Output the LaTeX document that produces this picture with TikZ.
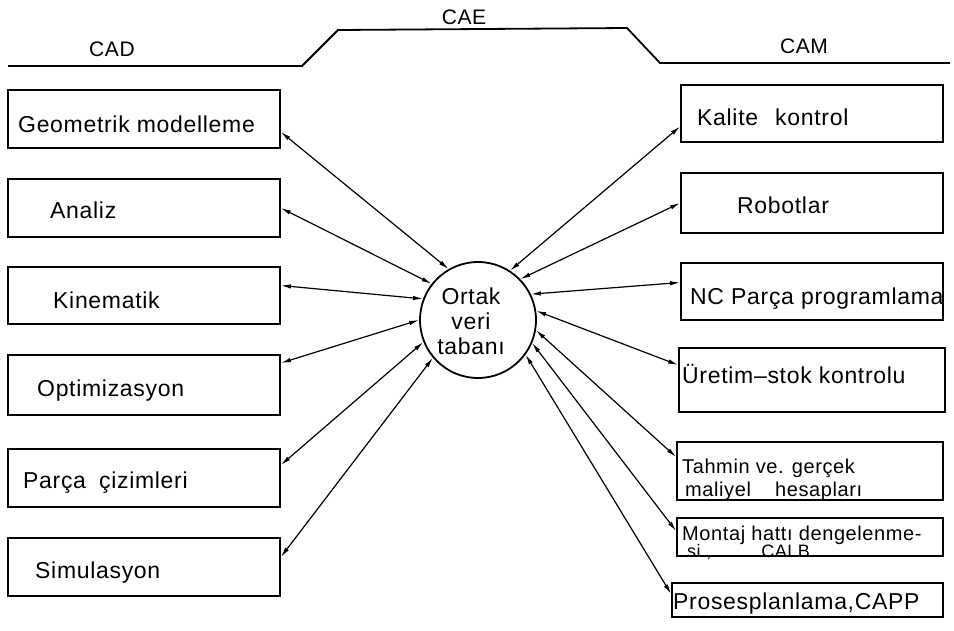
\documentclass[tikz,border=0pt]{standalone}
\usepackage{fontspec}
\setmainfont{Liberation Sans}[LetterSpace=3]
\usetikzlibrary{arrows.meta}
\begin{document}
\begin{tikzpicture}[x=1pt,y=-1pt,
  box/.style={draw, line width=1.8pt, inner sep=0pt},
  lbl/.style={inner sep=0pt, anchor=base west, font=\fontsize{23}{26}\selectfont},
  small/.style={inner sep=0pt, anchor=base west, font=\fontsize{20}{22}\selectfont},
  head/.style={inner sep=0pt, font=\fontsize{21}{24}\selectfont},
  hub/.style={draw, circle, line width=1.8pt, minimum size=116pt, inner sep=0pt},
  link/.style={line width=1.2pt, {Latex[length=10pt,width=4.5pt]}-{Latex[length=10pt,width=4.5pt]}},
  rail/.style={line width=1.8pt}]
\useasboundingbox (0,0) rectangle (954,630);
\fill[white] (0,0) rectangle (954,630);

% header rail
\draw[rail] (8,66) -- (302,66) -- (338,30) -- (627,28) -- (660,63) -- (950,63);
\node[head] (cad) at (112,49) {CAD};
\node[head] (cae) at (464,17) {CAE};
\node[head] (cam) at (804,46) {CAM};

% hub
\node[hub] (C) at (478,320) {};
\node[inner sep=0pt, align=center, font=\fontsize{23}{25}\selectfont] (Ct) at (471,321) {Ortak\\veri\\tabanı};

% left boxes
\node[box, minimum width=272pt, minimum height=58pt] (G) at (144,119) {};
\node[lbl] (Gt) at (18,132) {Geometrik modelleme};
\node[box, minimum width=272pt, minimum height=58pt] (A) at (144,208) {};
\node[lbl] (At) at (50,218) {Analiz};
\node[box, minimum width=272pt, minimum height=57pt] (K) at (144,295.5) {};
\node[lbl] (Kt) at (53,308) {Kinematik};
\node[box, minimum width=272pt, minimum height=60pt] (O) at (144,385) {};
\node[lbl] (Ot) at (37,396) {Optimizasyon};
\node[box, minimum width=272pt, minimum height=58pt] (P) at (144,478) {};
\node[lbl] (Pt) at (23,488) {Parça\hspace{6pt} çizimleri};
\node[box, minimum width=272pt, minimum height=58pt] (S) at (144,567) {};
\node[lbl] (St) at (35,578) {Simulasyon};

% right boxes
\node[box, minimum width=262pt, minimum height=57pt] (R1) at (812,113.5) {};
\node[lbl] (R1t) at (697,125) {Kalite\hspace{10pt} kontrol};
\node[box, minimum width=262pt, minimum height=60pt] (R2) at (812,203) {};
\node[lbl] (R2t) at (737,213) {Robotlar};
\node[box, minimum width=262pt, minimum height=57pt] (R3) at (812,291.5) {};
\node[lbl] (R3t) at (690,304) {NC Parça programlama};
\node[box, minimum width=266pt, minimum height=64pt] (R4) at (812,380) {};
\node[lbl] (R4t) at (682,383) {Üretim–stok kontrolu};
\node[box, minimum width=266pt, minimum height=58pt] (R5) at (810,471) {};
\node[small] (R5a) at (682,473) {Tahmin ve. gerçek};
\node[small] (R5b) at (685,496) {maliyel\hspace{18pt} hesapları};
\node[box, minimum width=266pt, minimum height=38pt] (R6) at (810,537) {};
\node[small] (R6a) at (682,540) {Montaj hattı dengelenme-};
\node[inner sep=0pt, anchor=base west, font=\fontsize{18}{20}\selectfont] (R6b) at (687,557) {si ,\hspace{50pt}CALB};
\node[box, minimum width=271pt, minimum height=34pt] (R7) at (807.5,600) {};
\node[lbl] (R7t) at (673,609) {Prosesplanlama,CAPP};

% connectors
\draw[link] ([yshift=-13pt]G.east) -- (C.120);
\draw[link] (A.east) -- (C.142);
\draw[link] ([yshift=10pt]K.east) -- (C.159);
\draw[link] ([yshift=22pt]O.east) -- (C.180);
\draw[link] ([yshift=13pt]P.east) -- (C.202);
\draw[link] ([yshift=10pt]S.east) -- (C.220);

\draw[link] ([yshift=-13pt]R1.west) -- (C.57);
\draw[link] (R2.west) -- (C.44);
\draw[link] ([yshift=9pt]R3.west) -- (C.26);
\draw[link] ([yshift=15pt]R4.west) -- (C.9);
\draw[link] ([yshift=14pt]R5.west) -- (C.-10);
\draw[link] ([yshift=6pt]R6.west) -- (C.-23);
\draw[link] ([yshift=6pt]R7.west) -- (C.-36);
\end{tikzpicture}
\end{document}
